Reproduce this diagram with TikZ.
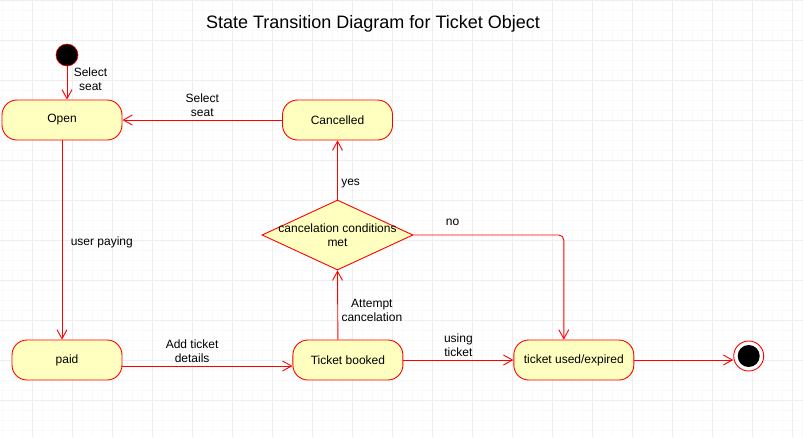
\documentclass[tikz,border=0pt]{standalone}
\usepackage{fontspec}
\setmainfont{Liberation Sans}
\usetikzlibrary{shapes,arrows.meta,positioning}
\definecolor{statefill}{HTML}{FFFFC0}
\tikzset{
  state/.style = {
    rectangle,
    rounded corners=15pt,
    draw=red,
    line width=0.9pt,
    fill=statefill,
    minimum height=40pt,
    align=center,
    font=\fontsize{12}{14}\selectfont
  },
  decision/.style = {
    diamond,
    draw=red,
    line width=0.9pt,
    fill=statefill,
    minimum width=151pt,
    minimum height=70pt,
    inner sep=0pt
  },
  start_dot/.style = {
    circle,
    draw=red,
    line width=0.6pt,
    fill=black,
    minimum size=22pt,
    inner sep=0pt
  },
  end_dot/.style = {
    circle,
    draw=red,
    line width=0.9pt,
    fill=white,
    minimum size=30pt,
    inner sep=0pt,
    path picture={\fill[black] (path picture bounding box.center) circle (11pt);}
  },
  note/.style = {
    align=center,
    font=\fontsize{12}{14}\selectfont
  },
  flow/.style = {
    draw=red,
    line width=0.9pt,
    -{Straight Barb[length=9pt,width=10pt]}
  },
  grid_minor/.style = {gray!5, line width=0.8pt},
  grid_major/.style = {gray!13, line width=0.8pt}
}
\begin{document}
\begin{tikzpicture}[x=1pt, y=-1pt]

\useasboundingbox (0,0) rectangle (803,437);

% Raster
\foreach \gx in {2,12,...,802} \draw[grid_minor] (\gx,0) -- (\gx,437);
\foreach \gy in {0,10,...,430} \draw[grid_minor] (0,\gy) -- (803,\gy);
\foreach \gx in {32,72,...,792} \draw[grid_major] (\gx,0) -- (\gx,437);
\foreach \gy in {0,40,...,400} \draw[grid_major] (0,\gy) -- (803,\gy);

% Titel
\node[font=\fontsize{18}{22}\selectfont] (title) at (373,24) {State Transition Diagram for Ticket Object};

% Zustaende
\node[start_dot] (start) at (67,55) {};
\node[state, minimum width=120pt] (open) at (62,120) {Open};
\node[state, minimum width=110pt] (cancelled) at (337.5,120) {Cancelled};
\node[decision, label={[note]center:cancelation conditions\\met}] (check) at (337.5,235) {};
\node[state, minimum width=110pt] (paid) at (67,360) {paid};
\node[state, minimum width=110pt, right=170pt of paid] (booked) {Ticket booked};
\node[state, minimum width=120pt, right=110pt of booked] (used) {ticket used/expired};
\node[end_dot, right=99pt of used, yshift=4pt] (stop) {};

% Uebergaenge
\draw[flow] (start) -- (start |- open.north) node[note, pos=0.38, right, xshift=3pt] {Select\\seat};
\draw[flow] (cancelled) -- (open) node[note, midway, above] {Select\\seat};
\draw[flow] (open) -- (open |- paid.north) node[note, pos=0.51, right, xshift=5pt] {user paying};
\draw[flow] ([yshift=-6pt]paid.east) -- ([yshift=-6pt]booked.west) node[note, pos=0.41, above] {Add ticket\\details};

% Stornierung
\draw[flow] ([xshift=-10pt]booked.north) -- (check.south) node[note, pos=0.42, right] {Attempt\\cancelation};
\draw[flow] (check) -- (cancelled) node[note, pos=0.27, right] {yes};
\draw[flow, rounded corners=5pt] (check.east) -| ([xshift=-10pt]used.north) node[note, pos=0.13, above, yshift=6pt] {no};

% Nutzung
\draw[flow] (booked) -- (used) node[note, midway, above] {using\\ticket};
\draw[flow] (used) -- (used -| stop.west);

\end{tikzpicture}
\end{document}
